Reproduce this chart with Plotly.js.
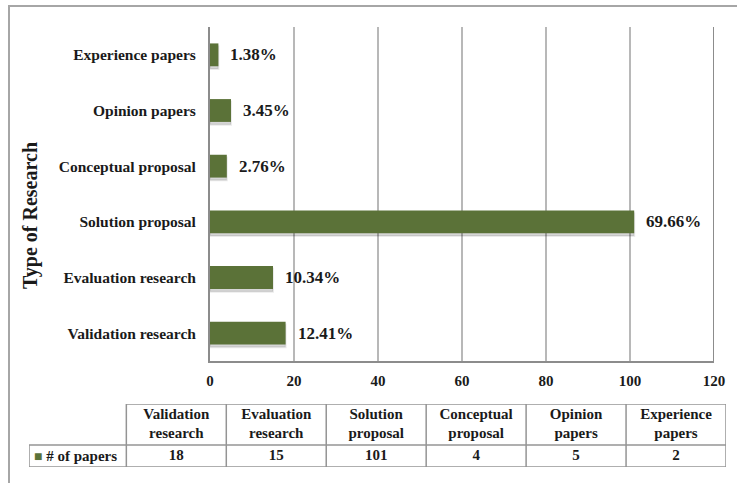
<!DOCTYPE html>
<html>
<head>
<meta charset="utf-8">
<script src="https://cdn.plot.ly/plotly-3.0.1.min.js"></script>
<style>html,body{margin:0;padding:0;background:#fff;}#chart{width:737px;height:483px;}</style>
</head>
<body>
<div id="chart"></div>
<script>
// Data (bottom-to-top order on the chart, left-to-right in the table)
const categories = ['Validation research', 'Evaluation research', 'Solution proposal', 'Conceptual proposal', 'Opinion papers', 'Experience papers'];
const papers = [18, 15, 101, 4, 5, 2];
const percentLabels = ['12.41%', '10.34%', '69.66%', '2.76%', '3.45%', '1.38%'];
const xTicks = [0, 20, 40, 60, 80, 100, 120];
const seriesName = '# of papers';
const yTitle = 'Type of Research';

const W = 737, H = 483;
const barColor = '#5b7238';
const gridColor = '#b8b8b8';
const axisColor = '#8c8c8c';
const tableLine = '#949494';
const serif = 'Liberation Serif';
const bold = (size) => ({family: serif, size: size, color: '#1a1a1a', weight: 'bold'});

// bar geometry (category units)
const barWidth = 0.41;
const shadowDrop = 0.05;

// table geometry (in table-axis units)
const tblLeft = -0.974, tblRight = categories.length;
const rowSplit = 22, tblTop = 63;
const dataRowY = rowSplit / 2, headerRowY = (rowSplit + tblTop) / 2;
const colCenters = categories.map((_, i) => i + 0.5);

const shadow = {
  type: 'bar', orientation: 'h',
  y: categories, x: papers,
  xaxis: 'x', yaxis: 'y',
  width: barWidth, offset: -barWidth / 2 - shadowDrop,
  marker: {color: 'rgba(0,0,0,0.16)', line: {color: 'rgba(0,0,0,0.08)', width: 2}},
  hoverinfo: 'skip', showlegend: false
};

const bar = {
  type: 'bar', orientation: 'h',
  y: categories, x: papers, name: seriesName,
  xaxis: 'x', yaxis: 'y',
  width: barWidth, offset: -barWidth / 2,
  marker: {color: barColor, line: {width: 0}},
  hoverinfo: 'x+y', showlegend: false
};

const tableHeader = {
  type: 'scatter', mode: 'text', xaxis: 'x2', yaxis: 'y2',
  x: colCenters, y: categories.map(() => headerRowY),
  text: categories.map(c => c.replace(' ', '<br>')),
  textposition: 'middle center', textfont: bold(15),
  hoverinfo: 'skip', showlegend: false, cliponaxis: false
};

const tableValues = {
  type: 'scatter', mode: 'text', xaxis: 'x2', yaxis: 'y2',
  x: colCenters, y: papers.map(() => dataRowY),
  text: papers.map(String),
  textposition: 'middle center', textfont: bold(15),
  hoverinfo: 'skip', showlegend: false, cliponaxis: false
};

const annotations = categories.map((c, i) => ({
  x: papers[i], y: c, xref: 'x', yref: 'y',
  text: percentLabels[i], showarrow: false,
  xanchor: 'left', yanchor: 'middle', xshift: 10,
  font: bold(17)
}));
annotations.push({
  x: 31 / W, y: 1 - 216 / H, xref: 'paper', yref: 'paper',
  text: yTitle, textangle: -90, showarrow: false,
  xanchor: 'center', yanchor: 'middle', font: bold(20)
});
annotations.push({
  x: tblLeft, y: dataRowY, xref: 'x2', yref: 'y2',
  text: '<span style="color:' + barColor + ';font-size:14px">■</span> ' + seriesName,
  showarrow: false, xanchor: 'left', yanchor: 'middle', xshift: 3,
  font: bold(15)
});

const tl = {color: tableLine, width: 1.5};
const shapes = [
  {type: 'rect', xref: 'paper', yref: 'paper', x0: 9 / W, x1: 1.05, y0: -0.05, y1: 1 - 6 / H,
   line: {color: '#a6a6a6', width: 2}, fillcolor: 'rgba(0,0,0,0)', layer: 'below'},
  {type: 'line', xref: 'x', yref: 'paper', x0: 120, x1: 120, y0: 1 - 361 / H, y1: 1 - 27 / H,
   line: {color: axisColor, width: 2}},
  // table borders
  {type: 'line', xref: 'x2', yref: 'y2', x0: 0, x1: tblRight, y0: tblTop, y1: tblTop, line: tl},
  {type: 'line', xref: 'x2', yref: 'y2', x0: tblLeft, x1: tblRight, y0: rowSplit, y1: rowSplit, line: tl},
  {type: 'line', xref: 'x2', yref: 'y2', x0: tblLeft, x1: tblRight, y0: 0, y1: 0, line: tl},
  {type: 'line', xref: 'x2', yref: 'y2', x0: tblLeft, x1: tblLeft, y0: 0, y1: rowSplit, line: tl}
];
for (let k = 0; k <= categories.length; k++) {
  shapes.push({type: 'line', xref: 'x2', yref: 'y2', x0: k, x1: k, y0: 0, y1: tblTop, line: tl});
}

const layout = {
  width: W, height: H,
  margin: {l: 0, r: 0, t: 0, b: 0},
  paper_bgcolor: 'white', plot_bgcolor: 'white',
  showlegend: false,
  barmode: 'overlay',
  xaxis: {
    domain: [210 / W, 714 / W], anchor: 'y',
    range: [0, 120], tickvals: xTicks, ticktext: xTicks.map(String),
    showgrid: true, gridcolor: gridColor, gridwidth: 1.5,
    zeroline: false, showline: true, linecolor: axisColor, linewidth: 2,
    ticks: '', ticklabelstandoff: 5, tickfont: bold(15), fixedrange: true
  },
  yaxis: {
    domain: [1 - 361 / H, 1 - 27 / H], anchor: 'x',
    type: 'category', categoryorder: 'array', categoryarray: categories,
    range: [-0.5, categories.length - 0.5],
    showgrid: false, zeroline: false,
    showline: true, linecolor: axisColor, linewidth: 2,
    ticks: '', ticklabelstandoff: 9, tickfont: bold(15.5), fixedrange: true
  },
  xaxis2: {domain: [29 / W, 726 / W], anchor: 'y2', range: [tblLeft, tblRight], visible: false, fixedrange: true},
  yaxis2: {domain: [1 - 467 / H, 1 - 404 / H], anchor: 'x2', range: [0, tblTop], visible: false, fixedrange: true},
  annotations: annotations,
  shapes: shapes
};

Plotly.newPlot('chart', [shadow, bar, tableHeader, tableValues], layout, {displayModeBar: false, staticPlot: true});
</script>
</body>
</html>
